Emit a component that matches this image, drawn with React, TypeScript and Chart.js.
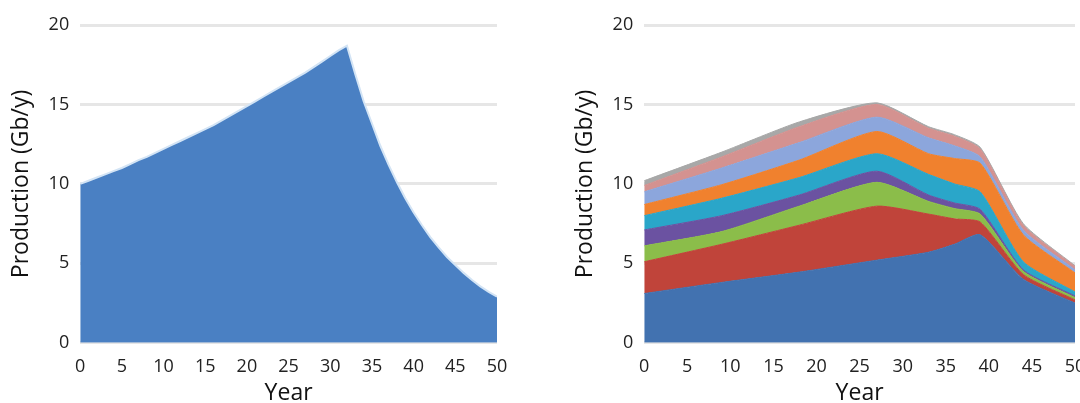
import React, { useEffect, useRef } from "react";
import { Chart, registerables } from "chart.js";

Chart.register(...registerables);

// Left chart: single field production profile
const leftYears = [
  0, 1, 2, 3, 4, 5, 6, 7, 8, 9, 10, 11, 12, 13, 14, 15, 16, 17, 18, 19, 20,
  21, 22, 23, 24, 25, 26, 27, 28, 29, 30, 31, 32, 33, 34, 35, 36, 37, 38, 39,
  40, 41, 42, 43, 44, 45, 46, 47, 48, 49, 50,
];
const leftValues = [
  10.0, 10.2, 10.4, 10.6, 10.8, 11.0, 11.25, 11.5, 11.7, 11.95, 12.2, 12.45,
  12.7, 12.95, 13.2, 13.45, 13.7, 14.0, 14.3, 14.6, 14.9, 15.2, 15.5, 15.8,
  16.1, 16.4, 16.7, 17.0, 17.35, 17.7, 18.05, 18.4, 18.7, 16.9, 15.2, 13.8,
  12.4, 11.2, 10.1, 9.1, 8.2, 7.4, 6.65, 6.0, 5.4, 4.9, 4.4, 3.95, 3.55, 3.2,
  2.9,
];

// Right chart: stacked production by field (layer thickness)
const rightYears = [0, 9, 18, 27, 33, 36, 39, 44, 50];
const layerBlue = [3.1, 3.8, 4.45, 5.2, 5.7, 6.2, 6.8, 4.0, 2.5];
const layerRed = [2.0, 2.4, 2.95, 3.4, 2.4, 1.6, 0.8, 0.3, 0.2];
const layerGreen = [1.0, 0.8, 1.2, 1.5, 0.8, 0.65, 0.5, 0.2, 0.15];
const layerPurple = [1.0, 1.0, 0.7, 0.7, 0.4, 0.35, 0.3, 0.1, 0.1];
const layerCyan = [0.9, 1.1, 1.1, 1.1, 1.3, 1.2, 1.1, 0.5, 0.25];
const layerOrange = [0.7, 0.85, 1.1, 1.4, 1.3, 1.6, 1.8, 1.7, 1.2];
const layerLightBlue = [0.8, 1.05, 1.1, 0.9, 1.0, 0.8, 0.4, 0.3, 0.2];
const layerPink = [0.4, 0.7, 1.0, 0.8, 0.6, 0.6, 0.5, 0.3, 0.2];
const layerGrey = [0.3, 0.3, 0.3, 0.1, 0.1, 0.1, 0.1, 0.1, 0.05];

const rightLayers = [
  { name: "Field 1", values: layerBlue, color: "#4272b0" },
  { name: "Field 2", values: layerRed, color: "#c0443a" },
  { name: "Field 3", values: layerGreen, color: "#8bbd4a" },
  { name: "Field 4", values: layerPurple, color: "#6b52a1" },
  { name: "Field 5", values: layerCyan, color: "#2aa6c9" },
  { name: "Field 6", values: layerOrange, color: "#f0812e" },
  { name: "Field 7", values: layerLightBlue, color: "#8ca6dc" },
  { name: "Field 8", values: layerPink, color: "#d49290" },
  { name: "Field 9", values: layerGrey, color: "#a8a8a8" },
];

const xTicks = [0, 5, 10, 15, 20, 25, 30, 35, 40, 45, 50];
const yTicks = [0, 5, 10, 15, 20];

const FONT = "'Open Sans', 'Noto Sans', sans-serif";

function scalesConfig(stacked: boolean) {
  return {
    x: {
      type: "linear" as const,
      min: 0,
      max: 50,
      afterBuildTicks: (axis: any) => {
        axis.ticks = xTicks.map((v) => ({ value: v }));
      },
      grid: { display: false, drawTicks: false },
      border: { display: false },
      ticks: {
        padding: 13,
        color: "#222",
        font: { family: FONT, size: 18 },
        maxRotation: 0,
        autoSkip: false,
      },
      title: {
        display: true,
        text: "Year",
        color: "#111",
        font: { family: FONT, size: 23 },
        padding: { top: -11, bottom: -4 },
      },
    },
    y: {
      min: 0,
      max: 20,
      stacked,
      afterBuildTicks: (axis: any) => {
        axis.ticks = yTicks.map((v) => ({ value: v }));
      },
      grid: { color: "#e6e6e6", lineWidth: 3, drawTicks: false },
      border: { display: false },
      ticks: {
        padding: 11,
        color: "#222",
        font: { family: FONT, size: 18 },
      },
      title: {
        display: true,
        text: "Production (Gb/y)",
        color: "#111",
        font: { family: FONT, size: 23 },
        padding: { top: 4, bottom: 2 },
      },
    },
  };
}

function LeftChart() {
  const ref = useRef<HTMLCanvasElement>(null);
  useEffect(() => {
    if (!ref.current) return;
    const chart = new Chart(ref.current, {
      type: "line",
      data: {
        datasets: [
          {
            label: "Production",
            data: leftYears.map((x, i) => ({ x, y: leftValues[i] })),
            backgroundColor: "#4a80c3",
            borderColor: "#d3e4f5",
            borderWidth: 2,
            fill: "origin",
            pointRadius: 0,
            tension: 0,
          },
        ],
      },
      options: {
        responsive: false,
        animation: false,
        devicePixelRatio: 1,
        layout: { padding: { left: 4, right: 43, top: 25, bottom: 0 } },
        plugins: { legend: { display: false }, tooltip: { enabled: false } },
        scales: scalesConfig(false) as any,
      },
    });
    return () => chart.destroy();
  }, []);
  return (
    <canvas
      ref={ref}
      width={540}
      height={403}
      style={{ position: "absolute", left: 0, top: 0, width: 540, height: 403 }}
    />
  );
}

function RightChart() {
  const ref = useRef<HTMLCanvasElement>(null);
  useEffect(() => {
    if (!ref.current) return;
    const chart = new Chart(ref.current, {
      type: "line",
      data: {
        datasets: rightLayers.map((layer, idx) => ({
          label: layer.name,
          data: rightYears.map((x, i) => ({ x, y: layer.values[i] })),
          backgroundColor: layer.color,
          borderColor: layer.color,
          borderWidth: 1,
          fill: idx === 0 ? "origin" : "-1",
          pointRadius: 0,
          tension: 0.2,
        })),
      },
      options: {
        responsive: false,
        animation: false,
        devicePixelRatio: 1,
        layout: { padding: { left: 4, right: 29, top: 25, bottom: 0 } },
        plugins: { legend: { display: false }, tooltip: { enabled: false } },
        scales: scalesConfig(true) as any,
      },
    });
    return () => chart.destroy();
  }, []);
  return (
    <canvas
      ref={ref}
      width={540}
      height={403}
      style={{ position: "absolute", left: 564, top: 0, width: 540, height: 403 }}
    />
  );
}

export default function App() {
  return (
    <div
      style={{
        position: "fixed",
        left: 0,
        top: 0,
        width: 1080,
        height: 403,
        overflow: "hidden",
        background: "#fff",
      }}
    >
      <LeftChart />
      <RightChart />
    </div>
  );
}
